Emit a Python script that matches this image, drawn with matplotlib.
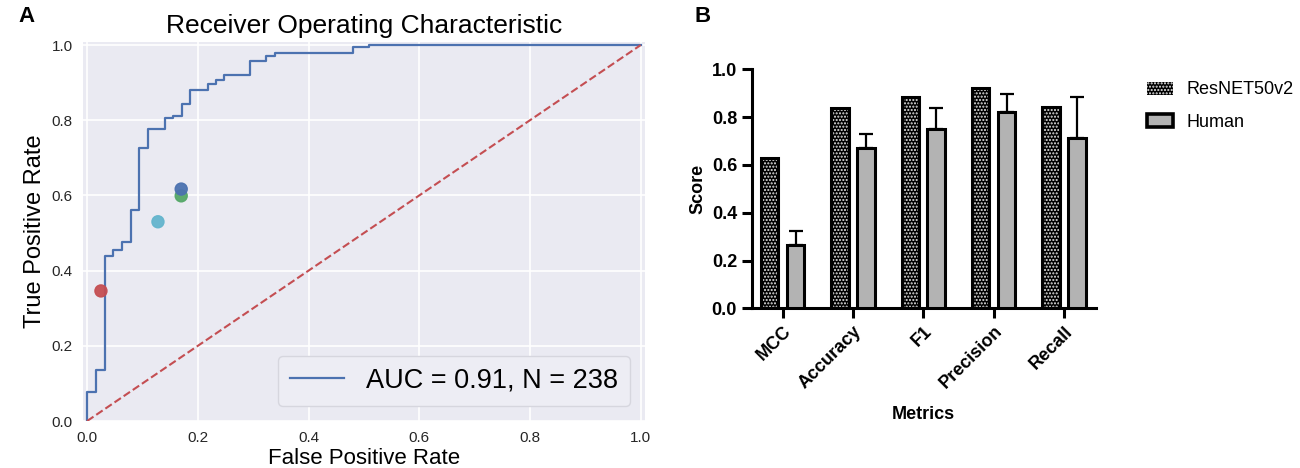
# ROC curve (panel A) and metric comparison bars (panel B)

import matplotlib
matplotlib.use("Agg")
import matplotlib.pyplot as plt
import numpy as np
from matplotlib.patches import Patch

plt.rcParams['font.family'] = ['Liberation Sans', 'DejaVu Sans']

# ---- panel A data
fpr = [0.0, 0.0, 0.016, 0.016, 0.033, 0.033, 0.047, 0.047, 0.063, 0.063,
       0.079, 0.079, 0.094, 0.094, 0.110, 0.110, 0.140, 0.140, 0.155, 0.155,
       0.171, 0.171, 0.186, 0.186, 0.218, 0.218, 0.233, 0.233, 0.248, 0.248,
       0.294, 0.294, 0.324, 0.324, 0.339, 0.339, 0.480, 0.480, 0.510, 0.510, 1.0]
tpr = [0.0, 0.078, 0.078, 0.136, 0.136, 0.439, 0.439, 0.455, 0.455, 0.477,
       0.477, 0.561, 0.561, 0.725, 0.725, 0.776, 0.776, 0.805, 0.805, 0.811,
       0.811, 0.844, 0.844, 0.880, 0.880, 0.897, 0.897, 0.908, 0.908, 0.921,
       0.921, 0.958, 0.958, 0.970, 0.970, 0.979, 0.979, 0.995, 0.995, 1.0, 1.0]
auc_label = "AUC = 0.91, N = 238"

# individual reader operating points
reader_fpr = [0.025, 0.128, 0.170, 0.170]
reader_tpr = [0.346, 0.530, 0.599, 0.617]
reader_colors = ['#C44E52', '#64B5CD', '#55A868', '#4C72B0']

# ---- panel B data
metrics = ['MCC', 'Accuracy', 'F1', 'Precision', 'Recall']
resnet = [0.628, 0.837, 0.883, 0.920, 0.844]
human = [0.265, 0.669, 0.750, 0.823, 0.714]
human_err = [0.060, 0.059, 0.087, 0.074, 0.172]

fig = plt.figure(figsize=(13, 4.68), dpi=100)

# ================= A =================
ax1 = fig.add_axes([0.0636, 0.1004, 0.4326, 0.8105])
ax1.set_facecolor('#EAEAF2')
ax1.grid(True, color='white', linewidth=1.2)
ax1.set_axisbelow(True)
for s in ax1.spines.values():
    s.set_visible(False)

ax1.plot(fpr, tpr, color='#4C72B0', linewidth=1.6, label=auc_label)
ax1.plot([0, 1], [0, 1], linestyle='--', color='#C44E52', linewidth=1.5)
ax1.scatter(reader_fpr, reader_tpr, c=reader_colors, s=75, alpha=0.95, zorder=3)

ax1.set_xlim(-0.008, 1.008)
ax1.set_ylim(0, 1.009)
ax1.set_xticks(np.arange(0, 1.01, 0.2))
ax1.set_yticks(np.arange(0, 1.01, 0.2))
ax1.tick_params(length=0, labelsize=11, pad=7, colors='#262626')
ax1.set_xlabel("False Positive Rate", fontsize=16, labelpad=2)
ax1.set_ylabel("True Positive Rate", fontsize=17)
ax1.set_title("Receiver Operating Characteristic", fontsize=19, pad=6)
leg = ax1.legend(loc='lower right', fontsize=19.5, handlelength=2.0, handletextpad=0.8,
                 frameon=True, borderpad=0.45, borderaxespad=0.55,
                 facecolor='#EDEDF4', edgecolor='#d6d6de')
leg.get_frame().set_alpha(1)

# ================= B =================
ax2 = fig.add_axes([0.5782, 0.3412, 0.2648, 0.5107])
x = np.arange(len(metrics))
off = 0.184
w = 0.25
ax2.bar(x - off, resnet, w, color='black', edgecolor='#e6e6e6', hatch='.....',
        linewidth=0, zorder=2)
ax2.bar(x - off, resnet, w, color='none', edgecolor='black', linewidth=2.2, zorder=3)
ax2.bar(x + off, human, w, color='#b3b3b3', edgecolor='black', linewidth=2.2, zorder=3)
ax2.errorbar(x + off, human, yerr=[np.zeros(len(human)), human_err], fmt='none',
             ecolor='black', elinewidth=1.6, capsize=5, capthick=1.6, zorder=2)

ax2.set_xlim(-0.44, 4.455)
ax2.set_ylim(0, 1.0)
ax2.set_yticks(np.arange(0, 1.01, 0.2))
ax2.set_yticklabels([f"{v:.1f}" for v in np.arange(0, 1.01, 0.2)], fontweight='bold', fontsize=13)
ax2.set_xticks(x)
ax2.set_xticklabels(metrics, rotation=45, ha='right', rotation_mode='anchor',
                    fontweight='bold', fontsize=13)
for s in ['top', 'right']:
    ax2.spines[s].set_visible(False)
for s in ['left', 'bottom']:
    ax2.spines[s].set_linewidth(2.2)
ax2.tick_params(width=2.2, length=7, direction='out')
ax2.set_ylabel("Score", fontweight='bold', fontsize=13, labelpad=4)
ax2.set_xlabel("Metrics", fontweight='bold', fontsize=13, labelpad=10)

# legend for B (outside, right)
h1 = Patch(facecolor='black', edgecolor='#e6e6e6', hatch='.....', linewidth=0)
h2 = Patch(facecolor='#b3b3b3', edgecolor='black', linewidth=2.6)
fig.legend([h1, h2], ['ResNET50v2', 'Human'], loc='upper left',
           bbox_to_anchor=(0.882, 0.826), frameon=False, fontsize=13,
           borderaxespad=0, borderpad=0,
           handlelength=1.45, handleheight=0.72, handletextpad=0.78, labelspacing=0.85)

fig.text(0.014, 0.952, "A", fontsize=16, fontweight='bold')
fig.text(0.534, 0.952, "B", fontsize=16, fontweight='bold')

plt.savefig("out.png", dpi=100)
